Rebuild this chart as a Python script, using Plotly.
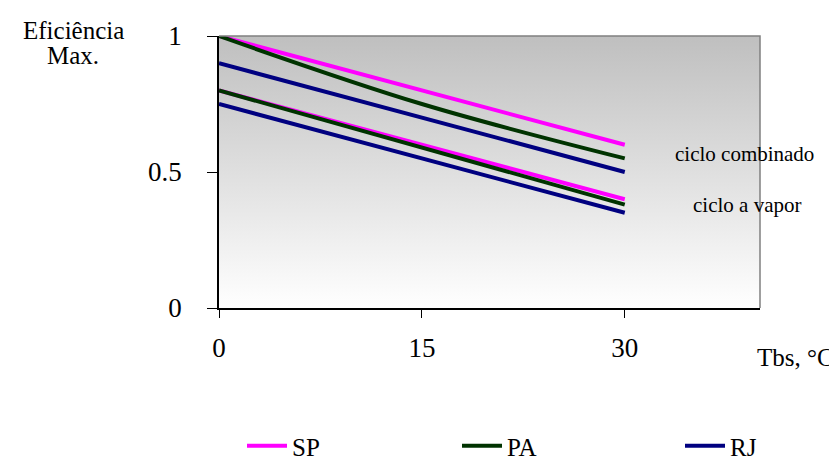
import plotly.graph_objects as go

tbs = [0, 15, 30]
sp_comb = [1.0, 0.8, 0.6]
pa_comb = [1.0, 0.75, 0.55]
rj_comb = [0.9, 0.7, 0.5]
sp_vap = [0.8, 0.6, 0.4]
pa_vap = [0.8, 0.59, 0.38]
rj_vap = [0.75, 0.55, 0.35]

x_ticks = [0, 15, 30]
y_ticks = [0, 0.5, 1]
y_tick_text = ["0", "0.5", "1"]

FONT = "Liberation Serif"
colors = {"SP": "#FF00FF", "PA": "#003300", "RJ": "#000080"}

fig = go.Figure()

# gradient background of plot area
fig.add_trace(go.Scatter(
    x=[0, 40, 40, 0, 0], y=[0, 0, 1, 1, 0], mode="lines",
    line=dict(width=0), fill="toself",
    fillgradient=dict(type="vertical", colorscale=[[0, "#ffffff"], [1, "#bfbfbf"]]),
    hoverinfo="skip", showlegend=False))

series = [
    ("SP", sp_comb, sp_vap, "linear", "legend"),
    ("PA", pa_comb, pa_vap, "spline", "legend2"),
    ("RJ", rj_comb, rj_vap, "linear", "legend3"),
]
for name, comb, vap, shape, leg in series:
    fig.add_trace(go.Scatter(x=tbs, y=comb, mode="lines", name=name, legendgroup=name,
                             legend=leg,
                             line=dict(color=colors[name], width=4, shape=shape)))
    fig.add_trace(go.Scatter(x=tbs, y=vap, mode="lines", name=name, legendgroup=name,
                             legend=leg, showlegend=False,
                             line=dict(color=colors[name], width=4)))

# page body has an 8px margin: figure is drawn 8px right/down of the window edge
def px_x(p):
    return (p - 219) / 541

def px_y(p):
    return (308 - p) / 272

leg_common = dict(orientation="h", yanchor="middle", y=px_y(446), xanchor="left",
                  itemwidth=40, bgcolor="rgba(0,0,0,0)",
                  font=dict(family=FONT, size=25, color="black"))

fig.update_layout(
    width=829, height=451,
    margin=dict(l=211, r=77, t=28, b=151, autoexpand=False),
    paper_bgcolor="white", plot_bgcolor="white",
    font=dict(family=FONT, size=27, color="black"),
    showlegend=True,
    legend=dict(x=px_x(242), **leg_common),
    legend2=dict(x=px_x(457), **leg_common),
    legend3=dict(x=px_x(680), **leg_common),
    xaxis=dict(range=[0, 40], tickvals=x_ticks, showgrid=False, zeroline=False,
               showline=True, linecolor="black", linewidth=1.5,
               ticks="outside", ticklen=8, tickcolor="black",
               ticklabelstandoff=7, tickfont=dict(size=27)),
    yaxis=dict(range=[0, 1], tickvals=y_ticks, ticktext=y_tick_text, showgrid=False,
               zeroline=False, showline=True, linecolor="black", linewidth=1.5,
               ticks="outside", ticklen=10, tickcolor="black",
               ticklabelstandoff=20, tickfont=dict(size=27)),
    shapes=[dict(type="path", xref="paper", yref="paper",
                 path="M 0,1 L 1,1 L 1,0", line=dict(color="#808080", width=1.5))],
    annotations=[
        dict(text="Eficiência", xref="paper", yref="paper",
             x=px_x(73), y=px_y(30), xanchor="center", yanchor="middle",
             showarrow=False, font=dict(family=FONT, size=25)),
        dict(text="Max.", xref="paper", yref="paper",
             x=px_x(73), y=px_y(56), xanchor="center", yanchor="middle",
             showarrow=False, font=dict(family=FONT, size=25)),
        dict(text="Tbs, °C", xref="paper", yref="paper",
             x=px_x(836), y=px_y(357), xanchor="right", yanchor="middle",
             showarrow=False, font=dict(family=FONT, size=25)),
        dict(text="ciclo combinado", xref="paper", yref="paper",
             x=px_x(744), y=px_y(154), xanchor="center", yanchor="middle",
             showarrow=False, font=dict(family=FONT, size=21)),
        dict(text="ciclo a vapor", xref="paper", yref="paper",
             x=px_x(747), y=px_y(205), xanchor="center", yanchor="middle",
             showarrow=False, font=dict(family=FONT, size=21)),
    ],
)

fig.write_html("out.html")
